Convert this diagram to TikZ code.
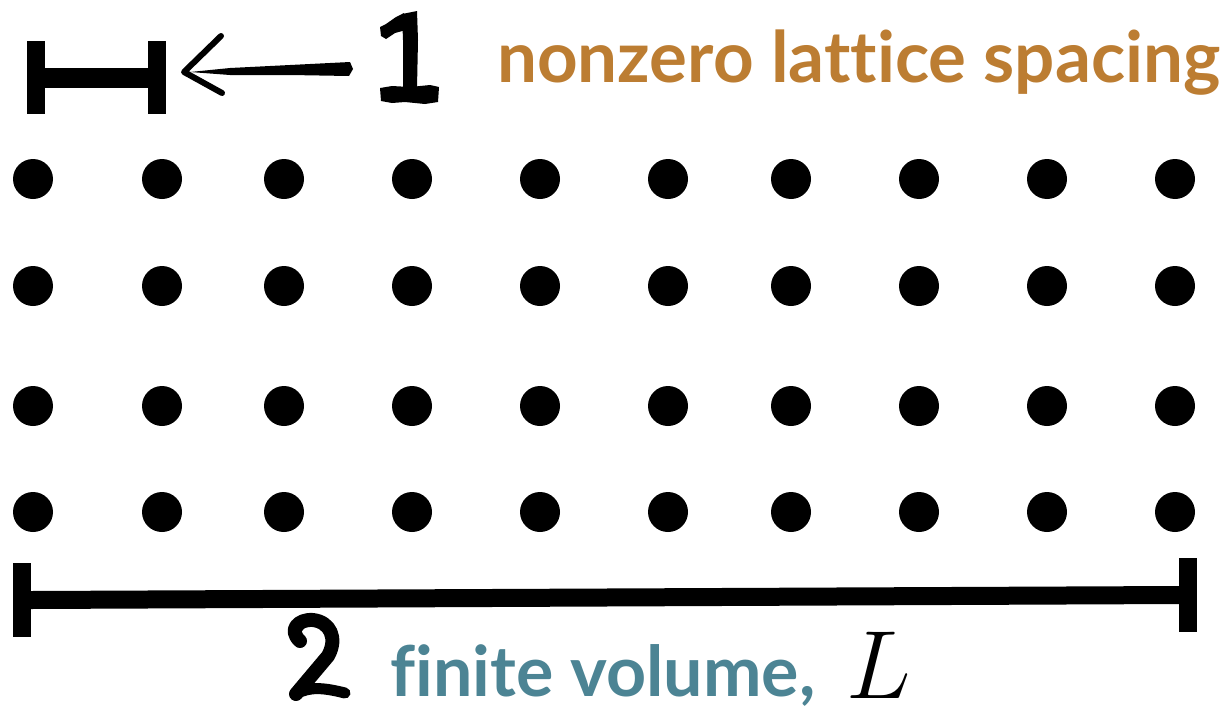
\documentclass[tikz,border=0pt]{standalone}
\usepackage{fix-cm}
\usepackage{fontspec}
\newfontfamily\labfont{Lato}[Ligatures=NoCommon]
\definecolor{orangeb}{RGB}{188,125,50}
\definecolor{tealb}{RGB}{76,132,148}
\begin{document}
\begin{tikzpicture}[x=1pt,y=-1pt]
\useasboundingbox (0,0) rectangle (1225,712);
\tikzset{
  dot/.style={circle,fill=black,minimum size=40pt,inner sep=0pt},
  ink/.style={fill=black},
  brush/.style={draw=black,line cap=round,line join=round},
  lab/.style={anchor=base west,inner sep=0pt}
}
% lattice
\foreach \x [count=\i] in {33,162,284,412,540,668,791,919,1047,1175}{
  \foreach \y [count=\j] in {179,286,406,512}{
    \node[dot] (d-\i-\j) at (\x,\y) {};
  }
}
% lattice spacing bar
\fill[ink] (27,41) rectangle (45,114);
\fill[ink] (45,68) rectangle (148,88);
\fill[ink] (148,41) rectangle (166,114);
% hand-drawn arrow
\coordinate (tip) at (184,72);
\fill[ink] (190,72) -- (230,68) -- (290,65) -- (350,62) -- (353,69) -- (349,76) -- (290,75) -- (230,75) -- cycle;
\draw[brush,line width=6] (221,36) -- (tip) -- (222,93);
% handwritten 1
\fill[ink] (402,14) -- (417,11) -- (418,40) -- (417,88) -- (403,88) -- (403,40) -- cycle;
\fill[ink] (380,27) -- (386,24) -- (396,17) -- (404,13) -- (406,30) -- (395,33) -- (386,39) -- (381,36) -- cycle;
\fill[ink] (380,88) -- (392,86) -- (410,87) -- (430,85) -- (439,87) -- (438,102) -- (425,104) -- (405,102) -- (392,103) -- (381,101) -- cycle;
% volume bar
\fill[ink] (13,563) rectangle (31,637);
\fill[ink] (31,591) -- (1179,586) -- (1179,604) -- (31,609) -- cycle;
\fill[ink] (1179,558) rectangle (1197,632);
% handwritten 2
\draw[brush,line width=14] (300,641) .. controls (288,630) and (298,619) .. (313,620)
  .. controls (330,622) and (338,638) .. (328,656) -- (296,694);
\draw[brush,line width=11] (296,694) .. controls (310,686) and (325,688) .. (345,693);
\fill[ink] (288,628) -- (300,616) -- (306,626) -- (295,640) -- cycle;
% labels
\node[lab,text=orangeb] (spacing) at (497,82)
  {\resizebox{723pt}{!}{\labfont\bfseries nonzero lattice spacing}};
\node[lab,text=tealb] (volume) at (390,696)
  {\resizebox{425pt}{!}{\labfont\bfseries finite volume,}};
\node[lab] (L) at (846,698) {\fontsize{97}{100}\selectfont$L$};
\end{tikzpicture}
\end{document}
